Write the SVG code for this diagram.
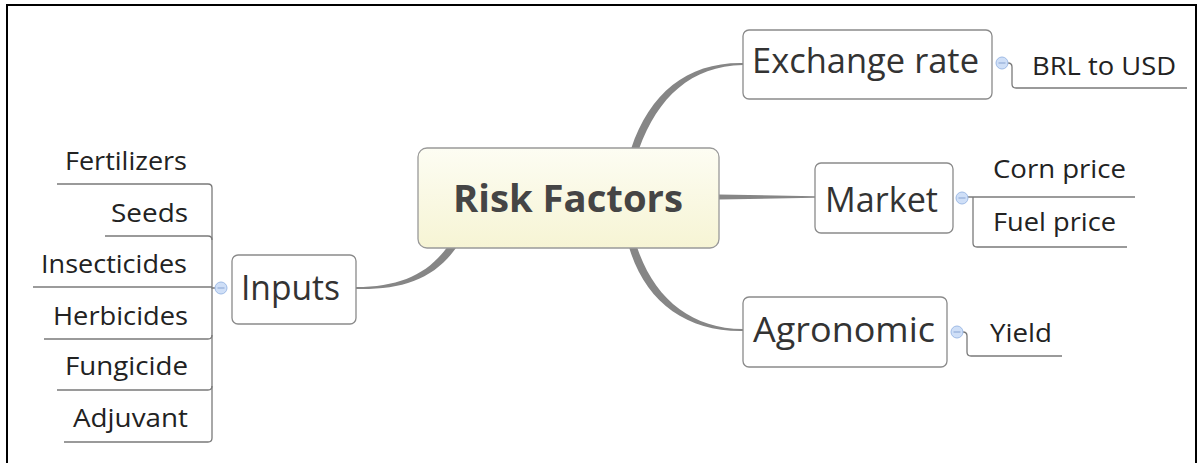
<svg xmlns="http://www.w3.org/2000/svg" width="1204" height="463" viewBox="0 0 1204 463">
<style>
.frame{stroke:#000;stroke-width:2;fill:none}
.box{fill:#fff;stroke:#8a8a8a;stroke-width:1.3}
.main{fill:#868686;stroke:none}
.sub{fill:none;stroke:#7a7a7a;stroke-width:1.3}
.t1{font-family:"Open Sans","Noto Sans","DejaVu Sans",sans-serif;font-size:35px;fill:#333}
.t2{font-family:"Open Sans","Noto Sans","DejaVu Sans",sans-serif;font-size:25px;fill:#222}
.tc{font-family:"Open Sans","Noto Sans","DejaVu Sans",sans-serif;font-size:38px;font-weight:bold;fill:#454545}
.knob{fill:#cfdff7;stroke:#9fbbe6;stroke-width:1}
.minus{stroke:#87a3d2;stroke-width:1}
</style>
<defs>
<linearGradient id="cg" x1="0" y1="0" x2="0" y2="1">
<stop offset="0" stop-color="#fdfdf3"/>
<stop offset="1" stop-color="#f6f4d4"/>
</linearGradient>
</defs>
<rect width="1204" height="463" fill="#fff"/>
<g id="frame">
<path class="frame" d="M7 463 V5 H1196 V463"/>
</g>
<g id="connectors">
<path class="main" d="M631 149 C650 92 688 62 743 63 L743 65 C691 66 658 97 639 149 Z"/>
<path class="main" d="M719 194.5 L815 196.3 L815 197.7 L719 199.5 Z"/>
<path class="main" d="M629 247 C645 302 687 332 743 331 L743 329 C691 329 654 298 637 247 Z"/>
<path class="main" d="M448 246 C428 274 400 287 356 287 L356 289 C402 290 434 279 456 248 Z"/>
<path class="sub" d="M998 63 H1008 Q1012 63 1012 67 V84 Q1012 88 1016 88 H1187"/>
<path class="sub" d="M967 197 H1135"/>
<path class="sub" d="M973 197 V243 Q973 247 977 247 H1127"/>
<path class="sub" d="M952 332 H963 Q967 332 967 336 V352 Q967 356 971 356 H1062"/>
<path class="sub" d="M225 288 H212 V188 Q212 184 208 184 H57"/>
<path class="sub" d="M212 240 Q212 236 208 236 H105"/>
<path class="sub" d="M212 287 H33"/>
<path class="sub" d="M212 288 V438 Q212 442 208 442 H64"/>
<path class="sub" d="M212 335 Q212 339 208 339 H44"/>
<path class="sub" d="M212 386 Q212 390 208 390 H57"/>
</g>
<g id="node-center">
<rect x="418" y="148" width="301" height="100" rx="9" fill="url(#cg)" stroke="#999" stroke-width="1.3"/>
<text class="tc" x="453" y="212" textLength="230" lengthAdjust="spacingAndGlyphs">Risk Factors</text>
</g>
<g id="node-exchange">
<rect class="box" x="743" y="30" width="249" height="69" rx="6"/>
<text class="t1" x="752" y="73" textLength="227" lengthAdjust="spacingAndGlyphs">Exchange rate</text>
<circle class="knob" cx="1002" cy="63" r="6"/>
<line class="minus" x1="998.5" y1="63" x2="1005.5" y2="63"/>
</g>
<g id="node-brl">
<text class="t2" x="1032" y="75" textLength="144" lengthAdjust="spacingAndGlyphs">BRL to USD</text>
</g>
<g id="node-market">
<rect class="box" x="815" y="163" width="138" height="70" rx="6"/>
<text class="t1" x="825" y="212" textLength="113" lengthAdjust="spacingAndGlyphs">Market</text>
<circle class="knob" cx="962" cy="198" r="6"/>
<line class="minus" x1="958.5" y1="198" x2="965.5" y2="198"/>
</g>
<g id="node-corn">
<text class="t2" x="993" y="178" textLength="133" lengthAdjust="spacingAndGlyphs">Corn price</text>
</g>
<g id="node-fuel">
<text class="t2" x="993" y="231" textLength="123" lengthAdjust="spacingAndGlyphs">Fuel price</text>
</g>
<g id="node-agronomic">
<rect class="box" x="743" y="297" width="204" height="70" rx="6"/>
<text class="t1" x="753" y="342" textLength="182" lengthAdjust="spacingAndGlyphs">Agronomic</text>
<circle class="knob" cx="957" cy="332" r="6"/>
<line class="minus" x1="953.5" y1="332" x2="960.5" y2="332"/>
</g>
<g id="node-yield">
<text class="t2" x="990" y="342" textLength="62" lengthAdjust="spacingAndGlyphs">Yield</text>
</g>
<g id="node-inputs">
<rect class="box" x="232" y="255" width="124" height="69" rx="6"/>
<text class="t1" x="241" y="300" textLength="99" lengthAdjust="spacingAndGlyphs">Inputs</text>
<circle class="knob" cx="221" cy="288" r="6"/>
<line class="minus" x1="217.5" y1="288" x2="224.5" y2="288"/>
</g>
<g id="node-fertilizers"><text class="t2" x="65" y="170" textLength="122" lengthAdjust="spacingAndGlyphs">Fertilizers</text></g>
<g id="node-seeds"><text class="t2" x="111" y="222" textLength="77" lengthAdjust="spacingAndGlyphs">Seeds</text></g>
<g id="node-insecticides"><text class="t2" x="41" y="273" textLength="146" lengthAdjust="spacingAndGlyphs">Insecticides</text></g>
<g id="node-herbicides"><text class="t2" x="53" y="325" textLength="135" lengthAdjust="spacingAndGlyphs">Herbicides</text></g>
<g id="node-fungicide"><text class="t2" x="65" y="375" textLength="123" lengthAdjust="spacingAndGlyphs">Fungicide</text></g>
<g id="node-adjuvant"><text class="t2" x="73" y="427" textLength="115" lengthAdjust="spacingAndGlyphs">Adjuvant</text></g>
</svg>
